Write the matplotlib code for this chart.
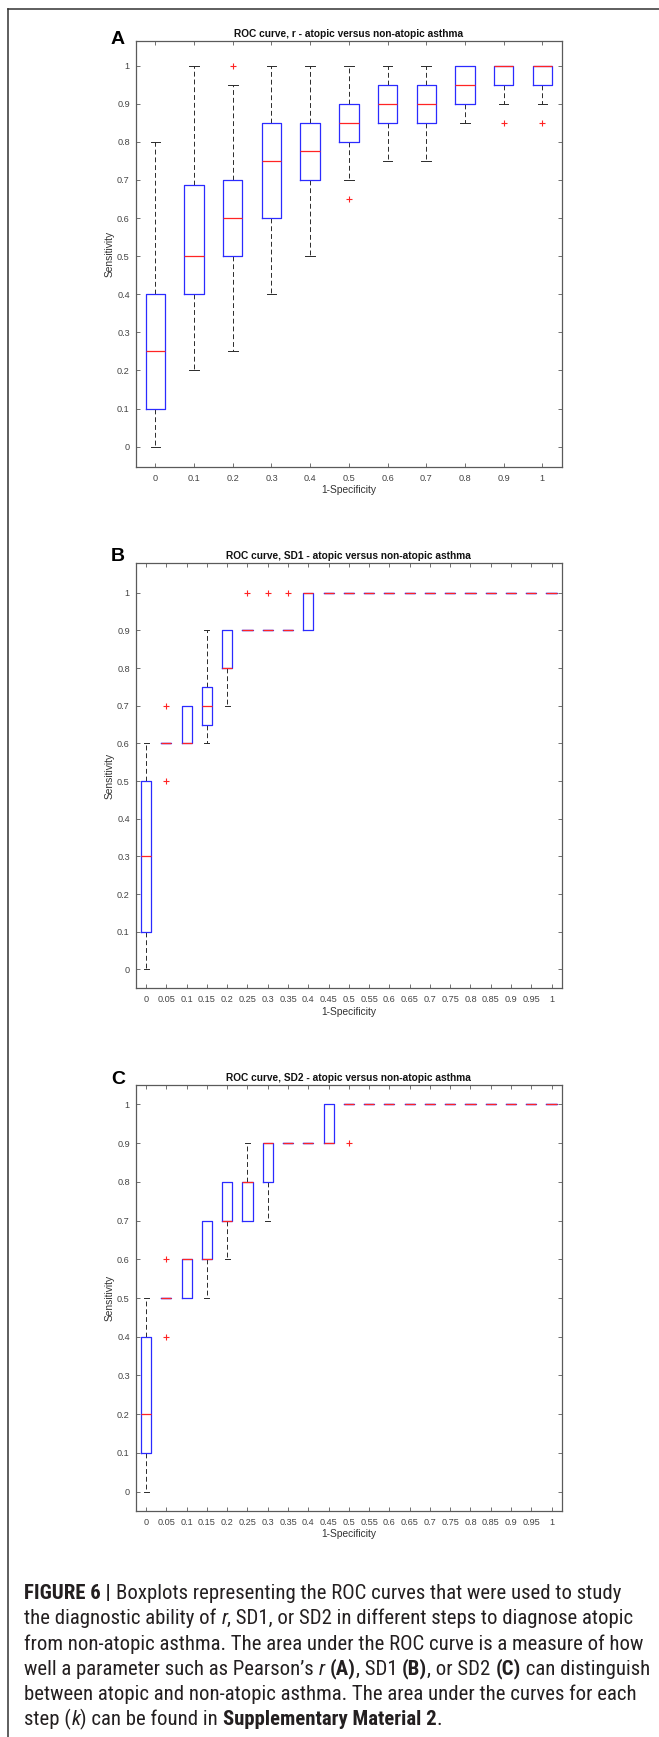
import matplotlib
matplotlib.use("Agg")
import matplotlib.pyplot as plt
from matplotlib import font_manager
from matplotlib.lines import Line2D

plt.rcParams["font.family"] = ["Liberation Sans", "DejaVu Sans"]

# ---- data ----
y_ticks = [0, 0.1, 0.2, 0.3, 0.4, 0.5, 0.6, 0.7, 0.8, 0.9, 1.0]
y_labels = ["0", "0.1", "0.2", "0.3", "0.4", "0.5", "0.6", "0.7", "0.8", "0.9", "1"]

a_labels = ["0", "0.1", "0.2", "0.3", "0.4", "0.5", "0.6", "0.7", "0.8", "0.9", "1"]
a_whislo = [0.0, 0.2, 0.25, 0.4, 0.5, 0.7, 0.75, 0.75, 0.85, 0.9, 0.9]
a_q1 = [0.1, 0.4, 0.5, 0.6, 0.7, 0.8, 0.85, 0.85, 0.9, 0.95, 0.95]
a_med = [0.25, 0.5, 0.6, 0.75, 0.775, 0.85, 0.9, 0.9, 0.95, 1.0, 1.0]
a_q3 = [0.4, 0.6875, 0.7, 0.85, 0.85, 0.9, 0.95, 0.95, 1.0, 1.0, 1.0]
a_whishi = [0.8, 1.0, 0.95, 1.0, 1.0, 1.0, 1.0, 1.0, 1.0, 1.0, 1.0]
a_fliers = [[], [], [1.0], [], [], [0.65], [], [], [], [0.85], [0.85]]

bc_labels = ["0", "0.05", "0.1", "0.15", "0.2", "0.25", "0.3", "0.35", "0.4", "0.45", "0.5",
             "0.55", "0.6", "0.65", "0.7", "0.75", "0.8", "0.85", "0.9", "0.95", "1"]

b_whislo = [0.0, 0.6, 0.6, 0.6, 0.7, 0.9, 0.9, 0.9, 0.9] + [1.0] * 12
b_q1 = [0.1, 0.6, 0.6, 0.65, 0.8, 0.9, 0.9, 0.9, 0.9] + [1.0] * 12
b_med = [0.3, 0.6, 0.6, 0.7, 0.8, 0.9, 0.9, 0.9, 1.0] + [1.0] * 12
b_q3 = [0.5, 0.6, 0.7, 0.75, 0.9, 0.9, 0.9, 0.9, 1.0] + [1.0] * 12
b_whishi = [0.6, 0.6, 0.7, 0.9, 0.9, 0.9, 0.9, 0.9, 1.0] + [1.0] * 12
b_fliers = [[], [0.7, 0.5], [], [], [], [1.0], [1.0], [1.0], []] + [[] for _ in range(12)]

c_whislo = [0.0, 0.5, 0.5, 0.5, 0.6, 0.7, 0.7, 0.9, 0.9, 0.9, 1.0] + [1.0] * 10
c_q1 = [0.1, 0.5, 0.5, 0.6, 0.7, 0.7, 0.8, 0.9, 0.9, 0.9, 1.0] + [1.0] * 10
c_med = [0.2, 0.5, 0.6, 0.6, 0.7, 0.8, 0.9, 0.9, 0.9, 0.9, 1.0] + [1.0] * 10
c_q3 = [0.4, 0.5, 0.6, 0.7, 0.8, 0.8, 0.9, 0.9, 0.9, 1.0, 1.0] + [1.0] * 10
c_whishi = [0.5, 0.5, 0.6, 0.7, 0.8, 0.9, 0.9, 0.9, 0.9, 1.0, 1.0] + [1.0] * 10
c_fliers = [[], [0.6, 0.4], [], [], [], [], [], [], [], [], [0.9]] + [[] for _ in range(10)]

titles = ["ROC curve, r - atopic versus non-atopic asthma",
          "ROC curve, SD1 - atopic versus non-atopic asthma",
          "ROC curve, SD2 - atopic versus non-atopic asthma"]
letters = ["A", "B", "C"]

caption_lines = [
    [("FIGURE 6 | ", "b"), ("Boxplots representing the ROC curves that were used to study", "r")],
    [("the diagnostic ability of ", "r"), ("r", "i"), (", SD1, or SD2 in different steps to diagnose atopic", "r")],
    [("from non-atopic asthma. The area under the ROC curve is a measure of how", "r")],
    [("well a parameter such as Pearson\u2019s ", "r"), ("r", "i"), (" ", "r"), ("(A)", "b"),
     (", SD1 ", "r"), ("(B)", "b"), (", or SD2 ", "r"), ("(C)", "b"), (" can distinguish", "r")],
    [("between atopic and non-atopic asthma. The area under the curves for each", "r")],
    [("step (", "r"), ("k", "i"), (") can be found in ", "r"), ("Supplementary Material 2", "b"), (".", "r")],
]

BLUE = "#2b2bff"
RED = "#ff2424"
WHISK = "#2a2a2a"
AXC = "#5a5a5a"
TXT = "#333333"

W, H = 659, 1737
fig = plt.figure(figsize=(W / 100, H / 100), dpi=100)


def px_axes(left, top, right, bottom):
    return fig.add_axes([left / W, 1 - bottom / H, (right - left) / W, (bottom - top) / H])


def make_stats(lo, q1, med, q3, hi, fl):
    return [dict(whislo=a, q1=b, med=c, q3=d, whishi=e, fliers=f)
            for a, b, c, d, e, f in zip(lo, q1, med, q3, hi, fl)]


def draw_panel(ax, stats, xlabels, ylim, title, letter, letter_y):
    n = len(stats)
    pos = list(range(1, n + 1))
    ax.bxp(stats, positions=pos, widths=0.5, capwidths=0.25,
           boxprops=dict(color=BLUE, lw=0.9, zorder=3),
           medianprops=dict(color=RED, lw=0.9, zorder=4),
           whiskerprops=dict(color=WHISK, lw=0.7, linestyle=(0, (5, 3)), zorder=2),
           capprops=dict(color=WHISK, lw=0.7, zorder=2),
           flierprops=dict(marker="+", markeredgecolor=RED, markersize=5,
                           markeredgewidth=0.8, linestyle="none", zorder=5))
    ax.set_xlim(0.5, n + 0.5)
    ax.set_ylim(*ylim)
    ax.set_xticks(pos, labels=xlabels)
    ax.set_yticks(y_ticks, labels=y_labels)
    ax.tick_params(direction="in", top=True, right=True, length=3, width=0.6,
                   color=AXC, labelsize=6.6, labelcolor="#444444")
    ax.tick_params(axis="x", pad=5)
    ax.tick_params(axis="y", pad=4.5)
    for s in ax.spines.values():
        s.set_color(AXC)
        s.set_linewidth(0.9)
    ax.text(0.5, 1 + 7.5 / 425.4, title, transform=ax.transAxes, ha="center", va="center",
            fontsize=7.3, fontweight="bold", color="#111111")
    ax.text(0.5, -0.055, "1-Specificity", transform=ax.transAxes, ha="center", va="center",
            fontsize=7.4, color=TXT)
    ax.text(-0.061, 0.5, "Sensitivity", transform=ax.transAxes, ha="center", va="center",
            rotation=90, fontsize=7.4, color=TXT)
    fig.text(118 / W, 1 - letter_y / H, letter, ha="center", va="center",
             fontsize=14, fontweight="bold", color="#000000")


ax_a = px_axes(136, 41.3, 561.7, 466.7)
ax_b = px_axes(136, 563.3, 561.7, 988.3)
ax_c = px_axes(136, 1085.3, 561.7, 1510.7)

draw_panel(ax_a, make_stats(a_whislo, a_q1, a_med, a_q3, a_whishi, a_fliers),
           a_labels, (-0.0525, 1.064), titles[0], letters[0], 40)
draw_panel(ax_b, make_stats(b_whislo, b_q1, b_med, b_q3, b_whishi, b_fliers),
           bc_labels, (-0.05, 1.078), titles[1], letters[1], 556.7)
draw_panel(ax_c, make_stats(c_whislo, c_q1, c_med, c_q3, c_whishi, c_fliers),
           bc_labels, (-0.049, 1.049), titles[2], letters[2], 1079.3)

# outer frame (top and left edges only are visible)
fx, fy = 8.3 / W, 1 - 9 / H
fig.add_artist(Line2D([fx, fx], [0, fy], transform=fig.transFigure, color="#333333", lw=1.1))
fig.add_artist(Line2D([fx, 1], [fy, fy], transform=fig.transFigure, color="#333333", lw=1.1))

# ---- caption ----
names = {(f.name, f.stretch) for f in font_manager.fontManager.ttflist}
cap_family, cap_stretch = "Liberation Sans", "normal"
if ("Liberation Sans Narrow", "normal") in names or ("Liberation Sans Narrow", "condensed") in names:
    cap_family = "Liberation Sans Narrow"
else:
    for fam in ["Roboto Condensed", "Open Sans Condensed"]:
        if any(n == fam for n, _ in names):
            cap_family = fam
            break
    else:
        for fam in ["Roboto", "Open Sans", "Noto Sans", "DejaVu Sans"]:
            if (fam, "condensed") in names:
                cap_family, cap_stretch = fam, "condensed"
                break

renderer = fig.canvas.get_renderer()
STYLE = {"r": dict(), "b": dict(fontweight="bold"), "i": dict(fontstyle="italic")}


def seg_width(txt, kind, size):
    kw = dict(fontsize=size, family=cap_family, fontstretch=cap_stretch, **STYLE[kind])
    t1 = fig.text(0, 0, "|" + txt + "|", **kw)
    t2 = fig.text(0, 0, "||", **kw)
    w = t1.get_window_extent(renderer).width - t2.get_window_extent(renderer).width
    t1.remove()
    t2.remove()
    return w


ref_w = sum(seg_width(t, k, 10) for t, k in caption_lines[3])
cap_size = 10 * 621 / ref_w

base0 = 1599.3
for i, line in enumerate(caption_lines):
    x = 24.4
    y = base0 + i * 25.2
    for txt, kind in line:
        fig.text(x / W, 1 - y / H, txt, fontsize=cap_size, family=cap_family,
                 fontstretch=cap_stretch, va="baseline", ha="left", color="#231f20",
                 **STYLE[kind])
        x += seg_width(txt, kind, cap_size)

fig.savefig("out.png", dpi=100)
